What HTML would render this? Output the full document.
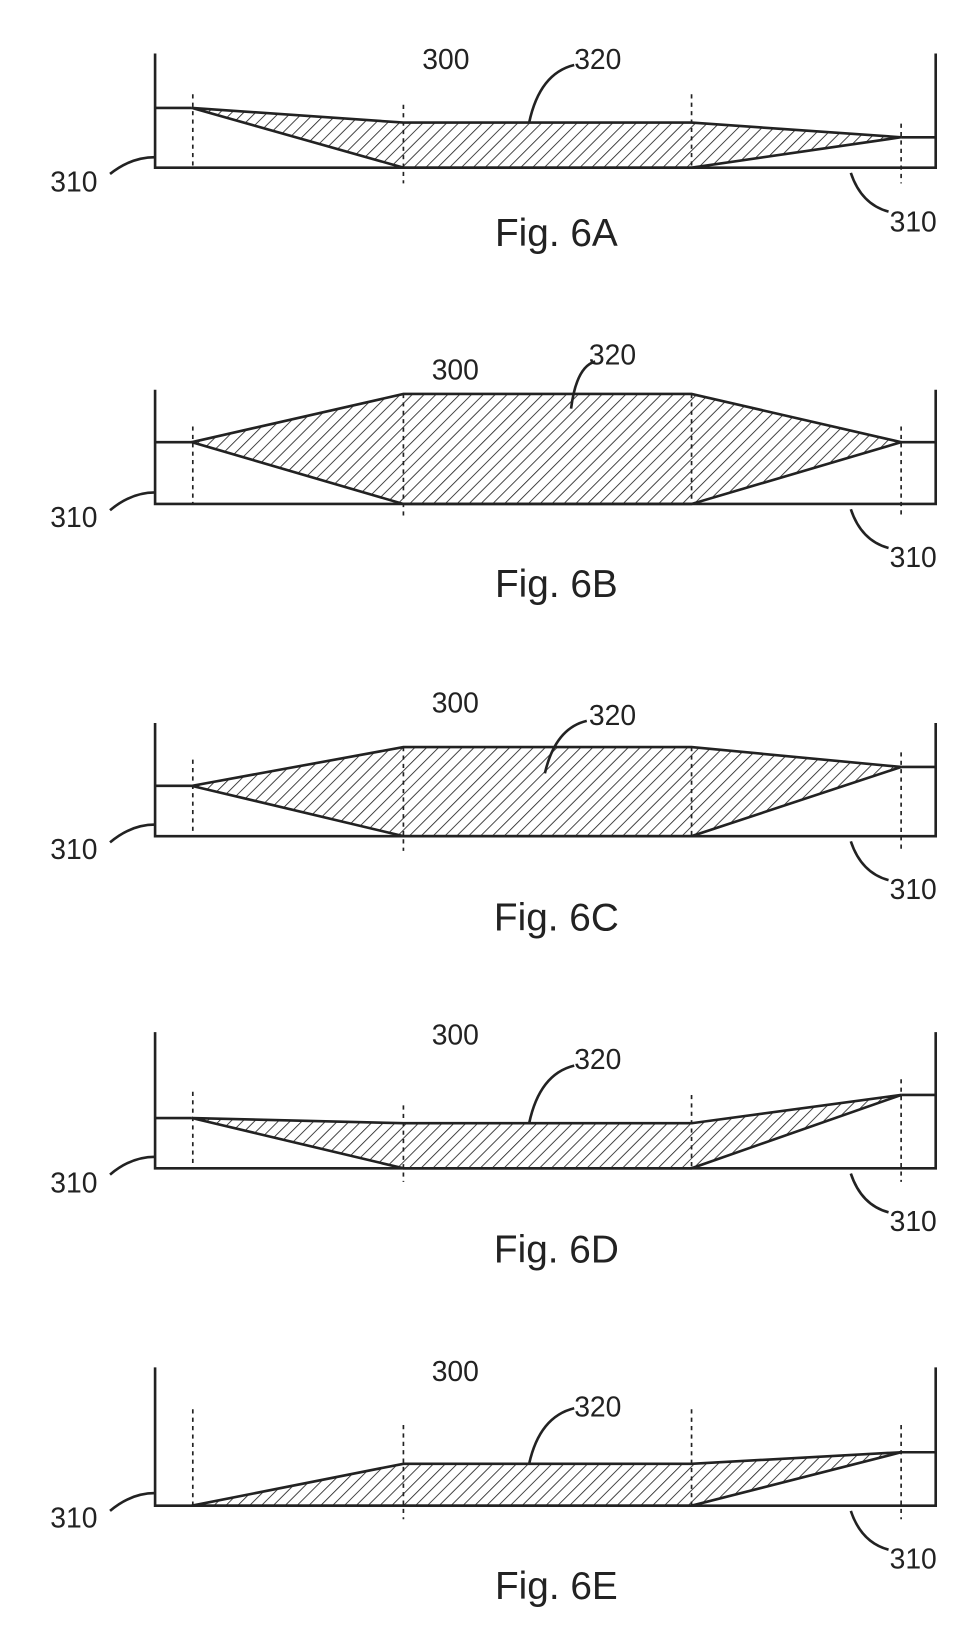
<!DOCTYPE html>
<html><head><meta charset="utf-8"><style>
html,body{margin:0;padding:0;background:#fff;}
svg{display:block;}
text{font-family:"Liberation Sans",Arial,sans-serif;fill:#222;}
.n{font-size:27px;}
.f{font-size:37px;}
</style></head><body>
<svg width="964" height="1644" viewBox="0 0 920 1569" xmlns="http://www.w3.org/2000/svg">
<defs>
<pattern id="h" patternUnits="userSpaceOnUse" width="8" height="8" patternTransform="rotate(45)">
<line x1="0" y1="0" x2="0" y2="8" stroke="#222" stroke-width="1.6"/>
</pattern>
</defs>
<g fill="none" stroke="#222" stroke-width="2.5">
<!-- 6A -->
<path d="M148 51 V160 H893 V51"/>
<path d="M148 103 H183 M860 131 H893"/>
<polygon points="183,103 385,117 660,117 860,131 660,160 385,160" fill="url(#h)"/>
<path d="M105 166 Q125 150 148 150"/>
<path d="M505 117 Q515 70 548 62"/>
<path d="M812 165 Q822 195 848 202"/>
<!-- 6B -->
<path d="M148 372 V481 H893 V372"/>
<path d="M148 422 H183 M860 422 H893"/>
<polygon points="183,422 385,376 660,376 860,422 660,481 385,481" fill="url(#h)"/>
<path d="M105 487 Q125 470 148 470"/>
<path d="M545 390 Q550 350 568 345"/>
<path d="M812 486 Q822 516 848 523"/>
<!-- 6C -->
<path d="M148 690 V798 H893 V690"/>
<path d="M148 750 H183 M860 732 H893"/>
<polygon points="183,750 385,713 660,713 860,732 660,798 385,798" fill="url(#h)"/>
<path d="M105 804 Q125 787 148 787"/>
<path d="M520 738 Q530 695 560 688"/>
<path d="M812 803 Q822 833 848 840"/>
<!-- 6D -->
<path d="M148 985 V1115 H893 V985"/>
<path d="M148 1067 H183 M860 1045 H893"/>
<polygon points="183,1067 385,1072 660,1072 860,1045 660,1115 385,1115" fill="url(#h)"/>
<path d="M105 1121 Q125 1104 148 1104"/>
<path d="M505 1072 Q515 1025 548 1017"/>
<path d="M812 1120 Q822 1150 848 1157"/>
<!-- 6E -->
<path d="M148 1305 V1437 H893 V1305"/>
<path d="M860 1386 H893"/>
<polygon points="183,1437 385,1397 660,1397 860,1386 660,1437" fill="url(#h)"/>
<path d="M105 1442 Q125 1425 148 1425"/>
<path d="M505 1397 Q515 1352 548 1344"/>
<path d="M812 1442 Q822 1472 848 1479"/>
</g>
<g fill="none" stroke="#222" stroke-width="1.6" stroke-dasharray="4,4">
<path d="M184 90 V160 M385 100 V175 M660 90 V160 M860 118 V175"/>
<path d="M184 407 V481 M385 376 V493 M660 376 V481 M860 407 V493"/>
<path d="M184 725 V798 M385 713 V812 M660 713 V798 M860 718 V812"/>
<path d="M184 1042 V1115 M385 1055 V1128 M660 1045 V1115 M860 1030 V1128"/>
<path d="M184 1345 V1437 M385 1360 V1450 M660 1345 V1437 M860 1360 V1450"/>
</g>
<g class="n">
<text x="403" y="66">300</text><text x="548" y="66">320</text>
<text x="48" y="183">310</text><text x="849" y="221">310</text>
<text x="412" y="362">300</text><text x="562" y="348">320</text>
<text x="48" y="503">310</text><text x="849" y="541">310</text>
<text x="412" y="680">300</text><text x="562" y="692">320</text>
<text x="48" y="820">310</text><text x="849" y="858">310</text>
<text x="412" y="997">300</text><text x="548" y="1020">320</text>
<text x="48" y="1138">310</text><text x="849" y="1175">310</text>
<text x="412" y="1318">300</text><text x="548" y="1352">320</text>
<text x="48" y="1458">310</text><text x="849" y="1497">310</text>
</g>
<g class="f" text-anchor="middle">
<text x="531" y="235">Fig. 6A</text>
<text x="531" y="570">Fig. 6B</text>
<text x="531" y="888">Fig. 6C</text>
<text x="531" y="1205">Fig. 6D</text>
<text x="531" y="1526">Fig. 6E</text>
</g>
</svg>
</body></html>
